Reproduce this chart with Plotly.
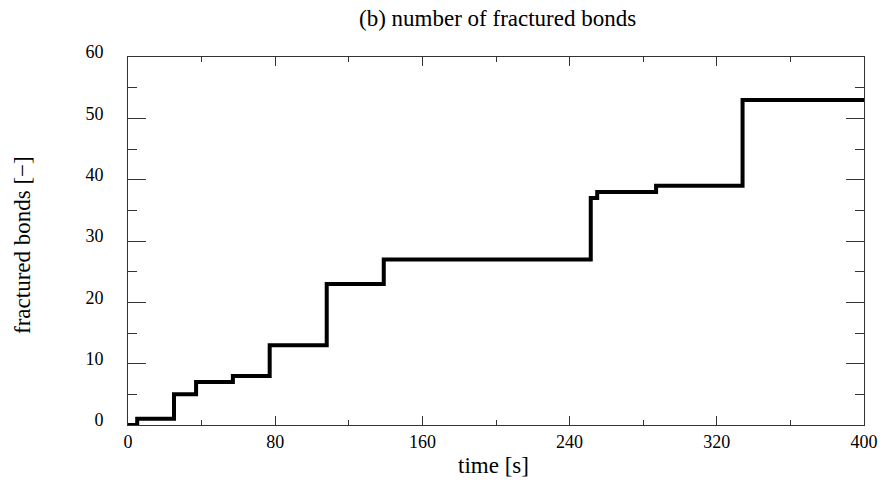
import plotly.graph_objects as go

# step data: time [s] at which the count changes, and the new count
times = [0, 5, 25, 37, 57, 77, 108, 139, 251.5, 255, 287, 334, 400]
bonds = [0, 1, 5, 7, 8, 13, 23, 27, 37, 38, 39, 53, 53]

x_ticks = [0, 80, 160, 240, 320, 400]
y_ticks = [0, 10, 20, 30, 40, 50, 60]

FONT = "Liberation Serif, Times New Roman, serif"
AX = "#333333"
W, H = 880, 490

fig = go.Figure()
fig.add_trace(go.Scatter(
    x=times, y=bonds, mode="lines", line_shape="hv",
    line=dict(color="black", width=4), showlegend=False, hoverinfo="skip",
))

fig.update_layout(
    width=W, height=H,
    margin=dict(l=128, r=16, t=57, b=65, autoexpand=False),
    paper_bgcolor="white", plot_bgcolor="white",
    font=dict(family=FONT, size=18, color="black"),
    annotations=[
        dict(text="(b) number of fractured bonds", xref="paper", yref="paper",
             x=(497 - 128) / 736, y=(425 - 18.5) / 368, xanchor="center", yanchor="middle",
             showarrow=False, font=dict(family=FONT, size=23)),
        dict(text="time [s]", xref="paper", yref="paper",
             x=(493 - 128) / 736, y=(425 - 466) / 368, xanchor="center", yanchor="middle",
             showarrow=False, font=dict(family=FONT, size=23)),
        dict(text="fractured bonds [−]", xref="paper", yref="paper", textangle=-90,
             x=(22.5 - 128) / 736, y=(425 - 244.5) / 368, xanchor="center", yanchor="middle",
             showarrow=False, font=dict(family=FONT, size=23)),
    ],
)

fig.update_xaxes(
    range=[0, 400], tickvals=x_ticks, ticktext=[str(v) for v in x_ticks],
    showline=True, linecolor=AX, linewidth=1, mirror="ticks",
    ticks="inside", ticklen=9, tickcolor=AX, tickwidth=1,
    minor=dict(dtick=40, tick0=0, ticks="inside", ticklen=5, tickcolor=AX),
    showgrid=False, zeroline=False, automargin=False,
    tickfont=dict(family=FONT, size=18),
)
fig.update_yaxes(
    range=[0, 60], tickvals=y_ticks, ticktext=[str(v) for v in y_ticks],
    showline=True, linecolor=AX, linewidth=1, mirror="ticks",
    ticks="inside", ticklen=18, tickcolor=AX, tickwidth=1,
    minor=dict(dtick=5, tick0=0, ticks="inside", ticklen=9, tickcolor=AX),
    showgrid=False, zeroline=False, automargin=False,
    tickfont=dict(family=FONT, size=18),
    ticklabelstandoff=20, ticklabelshift=-5,
)

fig.write_html("out.html")
